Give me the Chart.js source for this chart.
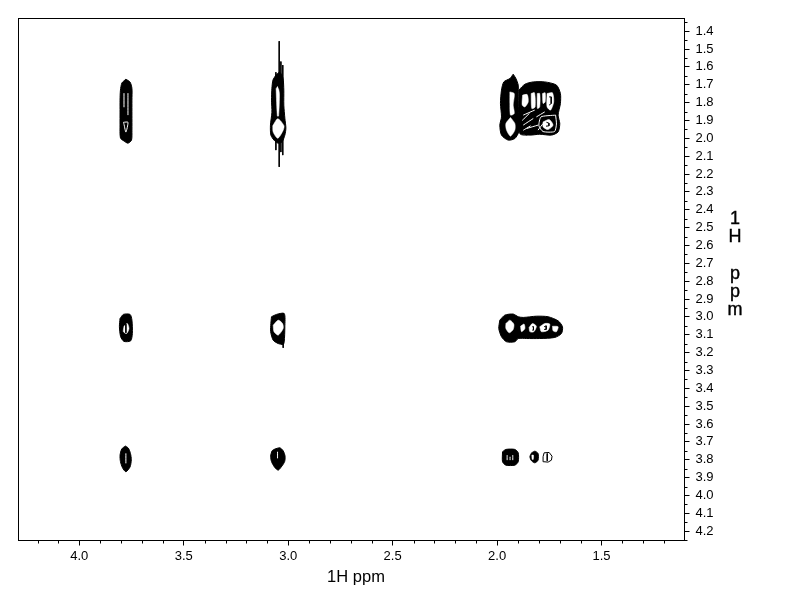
<!DOCTYPE html>
<html><head><meta charset="utf-8">
<style>html,body{margin:0;padding:0;background:#fff}canvas{display:block}</style>
<script src="https://cdn.jsdelivr.net/npm/chart.js@4"></script>
</head><body><canvas id="c" width="792" height="612"></canvas>
<script>
// Axis ticks (ppm)
const xMajorTicks=[4.0,3.5,3.0,2.5,2.0,1.5];
const xMinorTicks=[4.2,4.1,3.9,3.8,3.7,3.6,3.4,3.3,3.2,3.1,2.9,2.8,2.7,2.6,2.4,2.3,2.2,2.1,1.9,1.8,1.7,1.6,1.4,1.3,1.2];
const yMajorTicks=[1.4,1.5,1.6,1.7,1.8,1.9,2.0,2.1,2.2,2.3,2.4,2.5,2.6,2.7,2.8,2.9,3.0,3.1,3.2,3.3,3.4,3.5,3.6,3.7,3.8,3.9,4.0,4.1,4.2];
const yMinorTicks=[1.35,1.45,1.55,1.65,1.75,1.85,1.95,2.05,2.15,2.25,2.35,2.45,2.55,2.65,2.75,2.85,2.95,3.05,3.15,3.25,3.35,3.45,3.55,3.65,3.75,3.85,3.95,4.05,4.15,4.25];
const xTitle="1H ppm";
const yTitleLetters=["1","H","","p","p","m"];

// Outer contours of the cross peaks, [F2 ppm, F1 ppm]
const peakA=[[3.777,1.669],[3.796,1.69],[3.803,1.73],[3.805,1.786],[3.805,1.853],[3.805,1.925],[3.803,1.998],[3.786,2.015],[3.767,2.027],[3.75,2.01],[3.748,1.954],[3.748,1.87],[3.748,1.786],[3.748,1.72],[3.757,1.685]];
const peakB=[[3.059,1.646],[3.073,1.674],[3.078,1.719],[3.08,1.786],[3.078,1.854],[3.085,1.926],[3.083,1.982],[3.068,2.01],[3.049,2.027],[3.03,2.021],[3.016,1.982],[3.011,1.943],[3.016,1.887],[3.021,1.814],[3.021,1.73],[3.025,1.663],[3.04,1.63]];
const peakC=[[1.923,1.641],[1.939,1.665],[1.968,1.684],[1.979,1.73],[1.984,1.805],[1.979,1.88],[1.987,1.926],[1.979,1.982],[1.947,2.01],[1.915,2.001],[1.896,1.964],[1.891,1.917],[1.894,1.889],[1.899,1.824],[1.899,1.749],[1.899,1.702],[1.91,1.665]];
const peakD=[[1.896,1.73],[1.867,1.697],[1.827,1.684],[1.772,1.684],[1.716,1.702],[1.697,1.749],[1.697,1.805],[1.708,1.87],[1.7,1.917],[1.708,1.964],[1.74,1.982],[1.796,1.977],[1.843,1.982],[1.891,1.973]];
const peakE=[[3.805,3.009],[3.789,2.986],[3.757,2.986],[3.748,3.018],[3.746,3.093],[3.754,3.134],[3.786,3.137],[3.802,3.111],[3.808,3.055]];
const peakF=[[3.08,2.999],[3.056,2.986],[3.019,2.981],[3.016,3.055],[3.019,3.139],[3.024,3.154],[3.048,3.149],[3.072,3.13],[3.084,3.083],[3.083,3.037]];
const peakG=[[1.987,3.018],[1.963,2.99],[1.923,2.984],[1.899,2.999],[1.875,3.003],[1.812,2.996],[1.756,2.999],[1.708,3.022],[1.687,3.055],[1.692,3.093],[1.724,3.115],[1.796,3.121],[1.859,3.121],[1.899,3.121],[1.915,3.139],[1.955,3.139],[1.979,3.111],[1.992,3.065]];
const peakH=[[3.78,3.723],[3.765,3.735],[3.755,3.765],[3.751,3.8],[3.757,3.84],[3.777,3.867],[3.793,3.845],[3.803,3.81],[3.805,3.775],[3.797,3.74]];
const peakI=[[3.064,3.74],[3.04,3.733],[3.024,3.75],[3.015,3.78],[3.017,3.81],[3.03,3.835],[3.048,3.858],[3.066,3.84],[3.08,3.81],[3.084,3.78],[3.077,3.75]];
const peakJ=[[1.974,3.755],[1.958,3.742],[1.915,3.742],[1.899,3.761],[1.899,3.811],[1.915,3.83],[1.958,3.83],[1.974,3.811]];
const peakK=[[1.835,3.761],[1.819,3.752],[1.804,3.765],[1.804,3.802],[1.819,3.817],[1.835,3.806],[1.843,3.783]];
const blackPeaks=[peakA,peakB,peakC,peakD,peakE,peakF,peakG,peakH,peakI,peakJ,peakK];

// Open inner regions between contour rings
const holeB1=[[3.058,1.722],[3.05,1.71],[3.042,1.75],[3.046,1.875],[3.052,1.875]];
const holeB2=[[3.074,1.93],[3.05,1.89],[3.02,1.93],[3.026,1.96],[3.05,2.0],[3.072,1.965]];
const holeC1=[[1.936,1.883],[1.915,1.917],[1.915,1.954],[1.936,1.988],[1.955,1.954],[1.958,1.917]];
const holeC2=[[1.939,1.74],[1.918,1.749],[1.923,1.814],[1.918,1.861],[1.936,1.87],[1.939,1.805]];
const holeD1=[[1.878,1.758],[1.856,1.755],[1.851,1.796],[1.867,1.824],[1.88,1.814]];
const holeD2=[[1.837,1.749],[1.821,1.745],[1.818,1.824],[1.834,1.833]];
const holeD3=[[1.808,1.749],[1.796,1.749],[1.796,1.824],[1.807,1.833]];
const holeD4=[[1.783,1.749],[1.77,1.745],[1.77,1.796],[1.78,1.805]];
const holeD5=[[1.761,1.749],[1.735,1.745],[1.729,1.796],[1.744,1.842],[1.761,1.824]];
const holeD6=[[1.78,1.908],[1.751,1.895],[1.732,1.926],[1.756,1.951],[1.78,1.936]];
const holeE=[[3.786,3.052],[3.77,3.037],[3.762,3.065],[3.773,3.093],[3.789,3.083]];
const holeF=[[3.072,3.046],[3.048,3.018],[3.027,3.037],[3.024,3.065],[3.048,3.102],[3.068,3.083]];
const holeG1=[[1.958,3.037],[1.939,3.018],[1.92,3.04],[1.923,3.07],[1.942,3.089],[1.958,3.065]];
const holeG2=[[1.888,3.052],[1.871,3.04],[1.867,3.065],[1.883,3.083]];
const holeG3=[[1.847,3.059],[1.831,3.037],[1.812,3.052],[1.824,3.083],[1.843,3.083]];
const holeG4=[[1.796,3.055],[1.772,3.037],[1.748,3.04],[1.756,3.074],[1.788,3.083]];
const holeG5=[[1.735,3.052],[1.708,3.055],[1.716,3.083],[1.732,3.078]];
const holeK=[[1.834,3.774],[1.826,3.774],[1.827,3.798],[1.832,3.798]];
const whiteHoles=[holeB1,holeB2,holeC1,holeC2,holeD1,holeD2,holeD3,holeD4,holeD5,holeD6,holeE,holeF,holeG1,holeG2,holeG3,holeG4,holeG5,holeK];

// Thin gaps between contour lines
const gapA1=[[3.786,1.747],[3.786,1.826]];
const gapA2=[[3.767,1.747],[3.767,1.87]];
const gapA3=[[3.788,1.91],[3.777,1.965],[3.767,1.91],[3.788,1.91]];
const gapD1=[[1.875,1.87],[1.82,1.842]];
const gapD2=[[1.875,1.926],[1.827,1.889]];
const gapD3=[[1.812,1.88],[1.772,1.852]];
const gapD4=[[1.859,1.945],[1.804,1.926]];
const gapD5=[[1.804,1.954],[1.78,1.917]];
const gapD6=[[1.72,1.87],[1.79,1.88],[1.8,1.93],[1.78,1.962],[1.725,1.962],[1.716,1.92],[1.72,1.87]];
const gapD7=[[1.88,1.9],[1.845,1.86]];
const gapD8=[[1.875,1.955],[1.84,1.93]];
const gapH=[[3.777,3.764],[3.777,3.82]];
const gapI=[[3.051,3.755],[3.051,3.792]];
const gapJ1=[[1.952,3.774],[1.952,3.802]];
const gapJ2=[[1.925,3.774],[1.925,3.802]];
const gapJ3=[[1.938,3.783],[1.938,3.802]];
const whiteGaps=[gapA1,gapA2,gapA3,gapD1,gapD2,gapD3,gapD4,gapD5,gapD6,gapD7,gapD8,gapH,gapI,gapJ1,gapJ2,gapJ3];

// Black contour lines on top of open regions, and spikes (t1 noise)
const ringD5=[[1.751,1.768],[1.741,1.768],[1.741,1.805],[1.751,1.814]];
const ringD6=[[1.764,1.91],[1.752,1.915],[1.752,1.93],[1.766,1.932]];
const lineE=[[3.777,3.04],[3.777,3.089]];
const ringG3=[[1.832,3.055],[1.826,3.055],[1.826,3.074],[1.832,3.074]];
const ringG4=[[1.775,3.055],[1.765,3.05],[1.765,3.07],[1.775,3.07]];
const smallPeakL=[[1.775,3.761],[1.751,3.759],[1.737,3.78],[1.74,3.802],[1.756,3.813],[1.776,3.811],[1.78,3.783],[1.775,3.761]];
const dividerL=[[1.76,3.765],[1.76,3.806]];
const spike1a=[[3.043,1.456],[3.043,1.72]];
const spike1b=[[3.043,2.0],[3.043,2.16]];
const spike2a=[[3.026,1.59],[3.026,1.7]];
const spike2b=[[3.026,1.97],[3.026,2.094]];
const spike3a=[[3.059,1.63],[3.059,1.69]];
const spike3b=[[3.059,2.0],[3.059,2.066]];
const spike4a=[[3.035,1.57],[3.035,1.7]];
const spike4b=[[3.035,2.0],[3.035,2.077]];
const spike5=[[3.024,3.13],[3.024,3.173]];
const blackLines=[ringD5,ringD6,lineE,ringG3,ringG4,smallPeakL,dividerL,spike1a,spike1b,spike2a,spike2b,spike3a,spike3b,spike4a,spike4b,spike5];

const FONT="'Liberation Sans', Arial, sans-serif";
const toPts=a=>a.map(p=>({x:p[0],y:p[1]}));
const closed=a=>toPts(a.concat([a[0]]));
const base={showLine:true,pointRadius:0,pointHoverRadius:0,borderCapStyle:'butt'};
// Chart.js paints the first dataset last, so the topmost layers come first.
const datasets=[
 ...blackLines.map(a=>({...base,data:toPts(a),borderColor:'#000',borderWidth:1,fill:false,tension:0})),
 ...whiteGaps.map(a=>({...base,data:toPts(a),borderColor:'#fff',borderWidth:1,fill:false,tension:0.2})),
 ...whiteHoles.map(a=>({...base,data:closed(a),borderColor:'#fff',borderWidth:0.5,backgroundColor:'#fff',fill:'shape',tension:0.25})),
 ...blackPeaks.map(a=>({...base,data:closed(a),borderColor:'#000',borderWidth:1,backgroundColor:'#000',fill:'shape',tension:0.25}))
];

const frame={id:'frame',afterDraw(ch){
 const {ctx,chartArea:a,scales:{x,y}}=ch;
 ctx.save();ctx.strokeStyle='#000';ctx.lineWidth=1;
 ctx.strokeRect(a.left,a.top,a.right-a.left,a.bottom-a.top);
 ctx.beginPath();
 xMinorTicks.forEach(v=>{const p=Math.round(x.getPixelForValue(v))+0.5;ctx.moveTo(p,a.bottom);ctx.lineTo(p,a.bottom+3);});
 yMinorTicks.forEach(v=>{const p=Math.round(y.getPixelForValue(v))+0.5;ctx.moveTo(a.right,p);ctx.lineTo(a.right+3,p);});
 ctx.stroke();
 ctx.fillStyle='#000';ctx.textAlign='center';ctx.textBaseline='alphabetic';
 ctx.font="16.5px "+FONT;
 ctx.fillText(xTitle,356,582);
 ctx.font="18px "+FONT;
 ctx.lineWidth=0.4;
 yTitleLetters.forEach((t,i)=>{if(t){const py=224+i*18.2;ctx.fillText(t,735,py);ctx.strokeText(t,735,py);}});
 ctx.restore();
}};

new Chart(document.getElementById('c'),{
 type:'scatter',
 data:{datasets},
 plugins:[frame],
 options:{
  responsive:false,animation:false,
  layout:{padding:{left:18.5,top:18.5,right:0,bottom:0}},
  plugins:{legend:{display:false},tooltip:{enabled:false}},
  events:[],
  scales:{
   x:{type:'linear',position:'bottom',reverse:true,min:1.103,max:4.291,
    afterBuildTicks:s=>{s.ticks=xMajorTicks.map(v=>({value:v}));},
    afterFit:s=>{s.height=71.5;},
    border:{display:false},
    grid:{drawOnChartArea:false,drawTicks:true,tickLength:5,color:'#000',tickColor:'#000'},
    ticks:{autoSkip:false,maxRotation:0,padding:3,color:'#000',font:{family:FONT,size:13},callback:v=>v.toFixed(1)}},
   y:{type:'linear',position:'right',reverse:true,min:1.329,max:4.252,
    afterBuildTicks:s=>{s.ticks=yMajorTicks.map(v=>({value:v}));},
    afterFit:s=>{s.width=107.5;},
    border:{display:false},
    grid:{drawOnChartArea:false,drawTicks:true,tickLength:5,color:'#000',tickColor:'#000'},
    ticks:{autoSkip:false,padding:6,color:'#000',font:{family:FONT,size:13},callback:v=>v.toFixed(1)}}
  }
 }
});
</script></body></html>
